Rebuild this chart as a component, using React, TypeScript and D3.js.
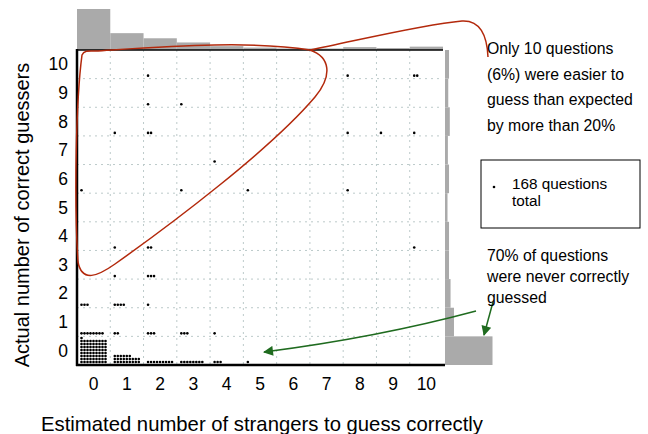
import { useMemo } from "react";
import * as d3 from "d3";

// estimated bins 0..10 (x) and actual correct guessers 0..10 (y)
const estimatedLabels = ["0", "1", "2", "3", "4", "5", "6", "7", "8", "9", "10"];
const actualLabels = ["0", "1", "2", "3", "4", "5", "6", "7", "8", "9", "10"];

// number of questions per cell; one array per actual-guessers row, indexed by estimated bin
const actual0 = [73, 24, 9, 8, 3, 1, 0, 0, 0, 0, 0];
const actual1 = [8, 2, 3, 3, 1, 0, 0, 0, 0, 0, 0];
const actual2 = [3, 4, 1, 0, 0, 0, 0, 0, 0, 0, 0];
const actual3 = [0, 1, 3, 0, 0, 0, 0, 0, 0, 0, 0];
const actual4 = [0, 1, 2, 0, 0, 0, 0, 0, 0, 0, 1];
const actual5 = [0, 0, 0, 0, 0, 0, 0, 0, 0, 0, 0];
const actual6 = [1, 0, 0, 1, 0, 1, 0, 0, 1, 0, 0];
const actual7 = [0, 0, 0, 0, 1, 0, 0, 0, 0, 0, 0];
const actual8 = [0, 1, 2, 0, 0, 0, 0, 0, 1, 1, 1];
const actual9 = [0, 0, 1, 1, 0, 0, 0, 0, 0, 0, 0];
const actual10 = [0, 0, 1, 0, 0, 0, 0, 0, 1, 0, 2];
const countsByActual = [
  actual0, actual1, actual2, actual3, actual4, actual5,
  actual6, actual7, actual8, actual9, actual10,
];

const topNote = ["Only 10 questions", "(6%) were easier to", "guess than expected", "by more than 20%"];
const bottomNote = ["70% of questions", "were never correctly", "guessed"];
const legendText = ["168 questions", "total"];

const W = 648;
const H = 434;
const PLOT = { left: 77, right: 443, top: 50, bottom: 365 };
const FONT = "'Liberation Sans', Arial, sans-serif";
const GRAY = "#aaaaaa";
const RED = "#b3290c";
const GREEN = "#1f6b1f";
const PER_ROW = 9;
const STEP = 3;

export default function App() {
  const x = useMemo(
    () => d3.scaleBand().domain(estimatedLabels).range([PLOT.left, PLOT.right]),
    []
  );
  const y = useMemo(
    () => d3.scaleBand().domain(actualLabels).range([PLOT.bottom, PLOT.top]),
    []
  );

  const colTotals = estimatedLabels.map((_, j) => d3.sum(countsByActual, (r) => r[j]));
  const rowTotals = countsByActual.map((r) => d3.sum(r));

  const topH = d3.scaleLinear().domain([0, d3.max(colTotals)!]).range([0, 39.5]);
  const rightW = d3.scaleLinear().domain([0, d3.max(rowTotals)!]).range([0, 45]);

  const dots: { cx: number; cy: number; key: string }[] = [];
  countsByActual.forEach((row, i) => {
    row.forEach((n, j) => {
      const x0 = x(estimatedLabels[j])!;
      const yb = y(actualLabels[i])! + y.bandwidth();
      for (let k = 0; k < n; k++) {
        dots.push({
          cx: x0 + 4.5 + (k % PER_ROW) * STEP,
          cy: yb - 3 - Math.floor(k / PER_ROW) * STEP,
          key: `${i}-${j}-${k}`,
        });
      }
    });
  });

  const gridX = estimatedLabels.slice(1).map((l) => x(l)!);
  const gridY = actualLabels.slice(1).map((l) => y(l)! + y.bandwidth());

  return (
    <svg
      width={W}
      height={H}
      style={{ position: "absolute", left: 0, top: 0, background: "#fff" }}
      fontFamily={FONT}
    >
      <defs>
        <marker
          id="gArrow"
          viewBox="0 0 10 10"
          refX="9"
          refY="5"
          markerWidth="16"
          markerHeight="10"
          markerUnits="userSpaceOnUse"
          orient="auto"
        >
          <path d="M0,0 L10,5 L0,10 Z" fill={GREEN} />
        </marker>
      </defs>

      {/* top histogram */}
      {colTotals.map((n, j) => {
        const h = 1.5 + topH(n);
        return (
          <rect
            key={j}
            x={x(estimatedLabels[j])}
            y={PLOT.top - h}
            width={x.bandwidth()}
            height={h}
            fill={GRAY}
          />
        );
      })}

      {/* right histogram */}
      {rowTotals.map((n, i) => (
        <rect
          key={i}
          x={PLOT.right + 2}
          y={y(actualLabels[i])}
          width={2.5 + rightW(n)}
          height={y.bandwidth()}
          fill={GRAY}
        />
      ))}

      {/* grid */}
      {gridX.map((gx, i) => (
        <line
          key={"gx" + i}
          x1={gx}
          x2={gx}
          y1={PLOT.top}
          y2={PLOT.bottom}
          stroke="#bccaca"
          strokeDasharray="2,4"
        />
      ))}
      {gridY.map((gy, i) => (
        <line
          key={"gy" + i}
          x1={PLOT.left}
          x2={PLOT.right}
          y1={gy}
          y2={gy}
          stroke="#bccaca"
          strokeDasharray="2,4"
        />
      ))}

      {/* frame */}
      <line x1={PLOT.left} x2={PLOT.right} y1={PLOT.top} y2={PLOT.top} stroke="#000" strokeWidth={1.6} />
      <line x1={PLOT.left} x2={PLOT.left} y1={PLOT.top - 1} y2={PLOT.bottom + 1} stroke="#000" strokeWidth={2.5} />
      <line x1={PLOT.left - 1} x2={PLOT.right + 2} y1={PLOT.bottom} y2={PLOT.bottom} stroke="#000" strokeWidth={2.5} />

      {/* dots */}
      {dots.map((d) => (
        <circle key={d.key} cx={d.cx} cy={d.cy} r={1.3} fill="#000" />
      ))}

      {/* tick labels */}
      {estimatedLabels.map((l) => (
        <text key={"xl" + l} x={x(l)! + x.bandwidth() / 2} y={390} textAnchor="middle" fontSize={17.5}>
          {l}
        </text>
      ))}
      {actualLabels.map((l) => (
        <text key={"yl" + l} x={68} y={y(l)! + y.bandwidth() / 2 + 6} textAnchor="end" fontSize={17.5}>
          {l}
        </text>
      ))}

      {/* axis titles */}
      <text x={262} y={431} textAnchor="middle" fontSize={20.3}>
        Estimated number of strangers to guess correctly
      </text>
      <text
        transform="translate(29,215) rotate(-90)"
        textAnchor="middle"
        fontSize={20}
      >
        Actual number of correct guessers
      </text>

      {/* red loop annotation */}
      <path
        d="M310,50 C330,57 333,75 315,97 C270,150 170,225 115,264 C98,276 82,283 78,262 C74,200 76,100 82,55 C84,50 90,51 95,51 C160,47 250,40 310,50"
        fill="none"
        stroke={RED}
        strokeWidth={1.5}
      />
      <path
        d="M310,50 C360,40 420,25 462,21 C480,20 487,35 488,57"
        fill="none"
        stroke={RED}
        strokeWidth={1.5}
      />

      {/* green arrows */}
      <path
        d="M476,311 C420,326 350,341 264,352"
        fill="none"
        stroke={GREEN}
        strokeWidth={1.5}
        markerEnd="url(#gArrow)"
      />
      <path
        d="M493,302 L484,335"
        fill="none"
        stroke={GREEN}
        strokeWidth={1.5}
        markerEnd="url(#gArrow)"
      />

      {/* notes */}
      {topNote.map((t, i) => (
        <text key={"tn" + i} x={487} y={54 + i * 25.7} fontSize={15.8}>
          {t}
        </text>
      ))}
      {bottomNote.map((t, i) => (
        <text key={"bn" + i} x={487} y={261 + i * 21} fontSize={15.8}>
          {t}
        </text>
      ))}

      {/* legend box */}
      <rect x={481} y={160} width={159} height={68} fill="none" stroke="#000" strokeWidth={1} />
      <circle cx={494} cy={187} r={1.3} fill="#000" />
      {legendText.map((t, i) => (
        <text key={"lg" + i} x={512} y={189 + i * 17} fontSize={15.3}>
          {t}
        </text>
      ))}
    </svg>
  );
}
